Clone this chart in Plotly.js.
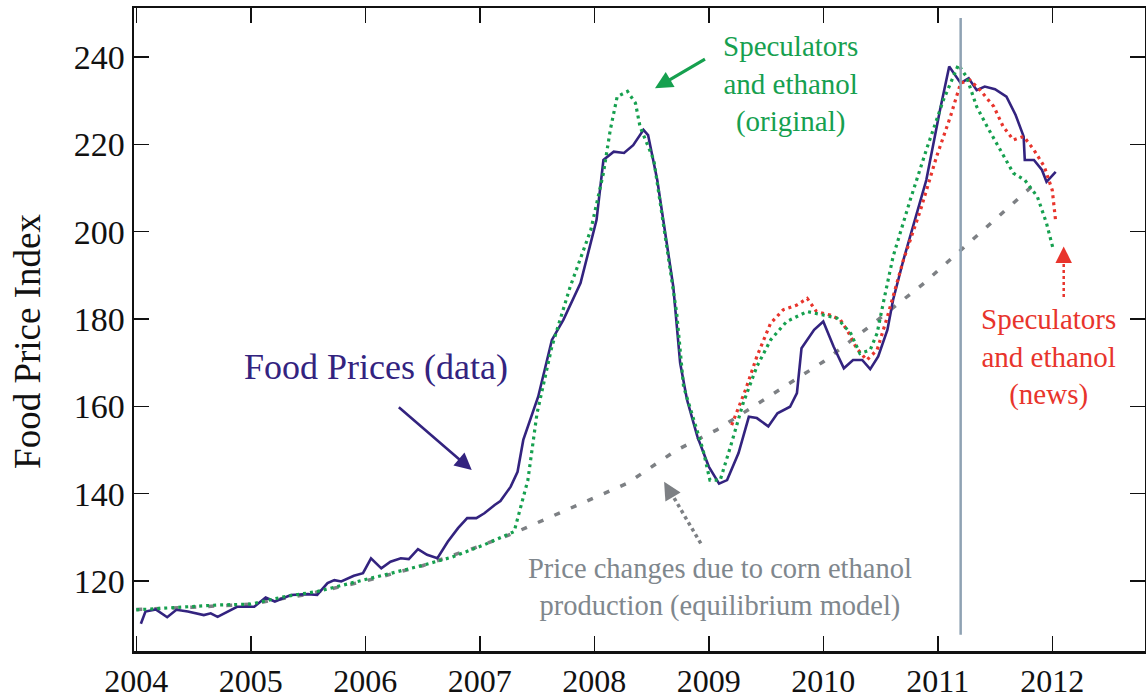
<!DOCTYPE html>
<html>
<head>
<meta charset="utf-8">
<script src="https://cdn.plot.ly/plotly-3.0.1.min.js"></script>
<style>html,body{margin:0;padding:0;background:#fff;}#chart{width:1146px;height:695px;}</style>
</head>
<body>
<div id="chart"></div>
<script>
// ---- data ----
const dataYears = [2004.04,2004.08,2004.17,2004.27,2004.35,2004.45,2004.59,2004.65,2004.71,2004.83,2004.88,2005.03,2005.13,2005.21,2005.35,2005.50,2005.58,2005.67,2005.73,2005.79,2005.90,2005.98,2006.05,2006.14,2006.22,2006.31,2006.38,2006.46,2006.54,2006.63,2006.72,2006.81,2006.89,2006.97,2007.04,2007.13,2007.18,2007.27,2007.33,2007.38,2007.51,2007.63,2007.73,2007.88,2008.02,2008.08,2008.17,2008.26,2008.34,2008.43,2008.47,2008.55,2008.63,2008.69,2008.75,2008.81,2008.90,2009.00,2009.09,2009.16,2009.26,2009.35,2009.42,2009.52,2009.60,2009.71,2009.77,2009.81,2009.92,2010.00,2010.09,2010.18,2010.26,2010.34,2010.41,2010.48,2010.56,2010.61,2010.70,2010.90,2011.02,2011.10,2011.20,2011.27,2011.34,2011.41,2011.50,2011.55,2011.60,2011.68,2011.75,2011.76,2011.84,2011.91,2011.95,2012.03];
const dataPrices = [110.2,113.0,113.5,111.7,113.4,113.0,112.2,112.6,111.8,113.4,114.1,114.1,116.2,115.3,116.8,117.0,116.8,119.5,120.2,119.9,121.2,121.8,125.2,122.9,124.4,125.2,125.0,127.3,126.0,125.2,129.0,132.1,134.4,134.4,135.5,137.4,138.3,141.6,145.0,152.3,162.2,175.2,179.8,188.2,202.7,216.4,218.3,218.0,219.8,223.3,222.1,211.8,197.3,187.4,169.9,161.5,153.1,146.2,142.3,143.1,149.3,157.6,157.3,155.4,158.4,159.9,163.0,173.3,177.5,179.4,173.7,168.7,170.6,170.6,168.5,171.4,177.5,184.4,193.5,211.8,227.9,237.8,234.0,235.1,232.4,233.2,232.6,231.7,230.9,226.7,221.8,216.4,216.4,214.1,211.4,213.7];

const originalYears = [2004.00,2004.42,2004.71,2005.00,2005.29,2005.58,2005.88,2006.17,2006.46,2006.75,2007.04,2007.30,2007.36,2007.42,2007.50,2007.63,2007.79,2007.97,2008.08,2008.14,2008.20,2008.29,2008.36,2008.40,2008.52,2008.63,2008.72,2008.78,2008.87,2008.95,2009.01,2009.10,2009.19,2009.30,2009.42,2009.54,2009.68,2009.86,2010.00,2010.12,2010.24,2010.32,2010.41,2010.47,2010.53,2010.61,2010.76,2010.90,2011.05,2011.18,2011.25,2011.34,2011.43,2011.55,2011.66,2011.76,2011.87,2011.95,2012.01];
const originalModel = [113.4,114.1,114.5,114.7,116.4,117.6,119.5,121.4,123.3,125.4,128.3,131.3,137.0,143.1,158.4,173.7,187.4,200.4,213.4,223.3,230.9,232.1,229.4,224.0,216.4,196.6,181.3,164.5,156.9,150.0,143.1,143.1,150.8,160.7,169.1,175.2,179.4,181.7,180.9,180.2,176.7,172.1,172.9,176.7,184.4,194.3,207.3,218.7,230.2,238.2,235.5,228.6,224.1,218.7,213.4,211.8,208.0,201.9,195.8];

const newsYears = [2009.20,2009.32,2009.42,2009.54,2009.65,2009.77,2009.86,2009.94,2010.06,2010.15,2010.24,2010.29,2010.38,2010.47,2010.56,2010.70,2010.85,2010.99,2011.11,2011.20,2011.28,2011.37,2011.49,2011.57,2011.66,2011.75,2011.84,2011.93,2012.00,2012.03];
const newsModel = [155.7,163.7,171.4,179.0,182.1,183.2,184.7,181.7,180.9,179.8,176.0,173.3,170.6,172.9,180.5,193.5,205.0,217.2,226.3,234.0,234.7,232.4,228.6,224.1,221.0,221.8,218.7,214.9,209.5,202.3];

const ethanolYears = [2004.00,2004.50,2005.00,2005.50,2006.00,2006.50,2007.00,2007.30,2007.76,2008.29,2008.72,2009.07,2010.00,2010.44,2010.88,2011.27,2011.85];
const ethanolModel = [113.5,114.0,114.7,117.0,120.0,123.5,128.0,131.0,136.3,142.4,150.0,154.6,170.2,179.0,188.2,197.4,211.0];

const eventYear = [2011.2];
const xTicks = [2004,2005,2006,2007,2008,2009,2010,2011,2012];
const yTicks = [120,140,160,180,200,220,240];

// ---- styles ----
const PURPLE = '#33237f';
const GREEN = '#16a04f';
const RED = '#e8342c';
const GREY = '#7d8084';
const GREYTXT = '#7f878d';
const FONT = 'Liberation Serif, Times New Roman, serif';

const traces = [
  {x: ethanolYears, y: ethanolModel, mode: 'lines', line: {color: GREY, width: 3.5, dash: '6px,12px'}, hoverinfo: 'skip'},
  {x: dataYears, y: dataPrices, mode: 'lines', line: {color: PURPLE, width: 2.6}},
  {x: newsYears, y: newsModel, mode: 'lines', line: {color: RED, width: 3.2, dash: '3px,4px'}},
  {x: originalYears, y: originalModel, mode: 'lines', line: {color: GREEN, width: 3.2, dash: '3px,4px'}}
];

const axisCommon = {
  showline: true, linewidth: 2.5, linecolor: '#111', mirror: 'ticks',
  ticks: 'inside', ticklen: 15, tickwidth: 1.5, tickcolor: '#111',
  showgrid: false, zeroline: false, fixedrange: true
};

const layout = {
  width: 1146, height: 695,
  margin: {l: 134, r: 1, t: 8, b: 44},
  paper_bgcolor: '#fff', plot_bgcolor: '#fff',
  showlegend: false,
  font: {family: FONT, color: '#111'},
  xaxis: Object.assign({}, axisCommon, {
    range: [2003.98, 2012.81], tickvals: xTicks, ticktext: xTicks.map(String),
    tickfont: {family: FONT, size: 32, color: '#111'}
  }),
  yaxis: Object.assign({}, axisCommon, {
    range: [103.97, 251.2], tickvals: yTicks, ticktext: yTicks.map(String),
    tickfont: {family: FONT, size: 34, color: '#111'}
  }),
  shapes: [
    {type: 'line', xref: 'x', yref: 'y', x0: eventYear[0], x1: eventYear[0], y0: 107.7, y1: 248.9,
     line: {color: '#8fa2b3', width: 2.5}},
    {type: 'line', xref: 'x', yref: 'y', x0: 2008.93, y0: 128.6, x1: 2008.67, y1: 140.2,
     line: {color: GREY, width: 3.5, dash: 'dot'}},
    {type: 'line', xref: 'x', yref: 'y', x0: 2012.10, y0: 185.0, x1: 2012.10, y1: 193.5,
     line: {color: RED, width: 2.5, dash: 'dot'}}
  ],
  annotations: [
    {xref: 'paper', yref: 'paper', x: -0.106, y: 0.482, text: 'Food Price Index', textangle: -90,
     showarrow: false, xanchor: 'center', yanchor: 'middle', font: {family: FONT, size: 37, color: '#111'}},
    {xref: 'x', yref: 'y', x: 2006.09, y: 169.0, text: 'Food Prices (data)', showarrow: false,
     font: {family: FONT, size: 36, color: PURPLE}},
    {xref: 'x', yref: 'y', x: 2006.93, y: 145.4, axref: 'x', ayref: 'y', ax: 2006.28, ay: 160.1, text: '',
     showarrow: true, arrowhead: 2, arrowsize: 1.3, arrowwidth: 2.6, arrowcolor: PURPLE},
    {xref: 'x', yref: 'y', x: 2009.71, y: 233.8, text: 'Speculators<br>and ethanol<br>(original)', showarrow: false,
     font: {family: FONT, size: 29, color: GREEN}},
    {xref: 'x', yref: 'y', x: 2008.53, y: 232.8, axref: 'x', ayref: 'y', ax: 2008.98, ay: 239.7, text: '',
     showarrow: true, arrowhead: 2, arrowsize: 1.1, arrowwidth: 3.2, arrowcolor: GREEN},
    {xref: 'x', yref: 'y', x: 2009.10, y: 118.5, text: 'Price changes due to corn ethanol<br>production (equilibrium model)', showarrow: false,
     font: {family: FONT, size: 28.5, color: GREYTXT}},
    {xref: 'x', yref: 'y', x: 2008.61, y: 142.7, ax: 7, ay: 12, text: '',
     showarrow: true, arrowhead: 2, arrowsize: 1.1, arrowwidth: 3.2, arrowcolor: GREY},
    {xref: 'x', yref: 'y', x: 2011.97, y: 171.3, text: 'Speculators<br>and ethanol<br>(news)', showarrow: false,
     font: {family: FONT, size: 29, color: RED}},
    {xref: 'x', yref: 'y', x: 2012.10, y: 196.6, ax: 0, ay: 14, text: '',
     showarrow: true, arrowhead: 2, arrowsize: 1.1, arrowwidth: 3, arrowcolor: RED}
  ]
};

Plotly.newPlot('chart', traces, layout, {displayModeBar: false, staticPlot: true});
</script>
</body>
</html>
